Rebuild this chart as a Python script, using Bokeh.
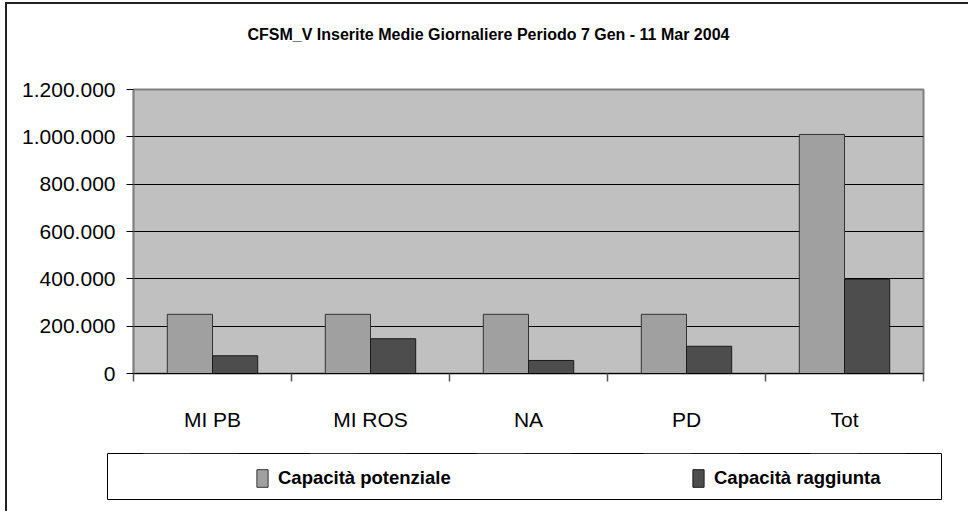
import numpy as np
from bokeh.plotting import figure
from bokeh.models import FixedTicker, Legend, LegendItem, ColumnDataSource
from bokeh.layouts import column
from bokeh.embed import file_html
from bokeh.resources import INLINE

# ---- data ----
categories = ["MI PB", "MI ROS", "NA", "PD", "Tot"]
potenziale = [250000, 250000, 250000, 250000, 1010000]
raggiunta = [75000, 147000, 55000, 115000, 398000]
series_names = ["Capacità potenziale", "Capacità raggiunta"]
y_ticks = [0, 200000, 400000, 600000, 800000, 1000000, 1200000]
y_tick_labels = ["0", "200.000", "400.000", "600.000", "800.000", "1.000.000", "1.200.000"]
title_text = "CFSM_V Inserite Medie Giornaliere Periodo 7 Gen - 11 Mar 2004"

FONT = "Liberation Sans"
LIGHT = "#a0a0a0"
DARK = "#4d4d4d"
LIGHT_LINE = "#333333"
DARK_LINE = "#1a1a1a"

idx = np.arange(len(categories))
centers = idx + 0.5
bar_w = 0.286
src = ColumnDataSource(dict(
    x1=centers - bar_w / 2, x2=centers + bar_w / 2,
    pot=potenziale, rag=raggiunta,
))

# ---- title strip ----
pt = figure(width=961, height=64, x_axis_type=None, y_axis_type=None,
            output_backend="svg", toolbar_location=None,
            min_border_left=0, min_border_right=0, min_border_top=0, min_border_bottom=0)
pt.frame_align = False
pt.outline_line_color = None
pt.background_fill_color = "white"
pt.border_fill_color = "white"
pt.xgrid.visible = False
pt.ygrid.visible = False
pt.title.text = title_text
pt.title.align = "left"
pt.title.text_font = FONT
pt.title.text_font_size = "16px"
pt.title.text_font_style = "bold"
pt.title.text_color = "black"
pt.title.offset = 240
pt.title.standoff = 39

# ---- main chart ----
p = figure(width=961, height=380, x_range=(0, len(categories)), y_range=(0, 1200000),
           output_backend="svg", toolbar_location=None,
           min_border_left=126, min_border_right=45, min_border_top=21, min_border_bottom=75)
p.frame_align = False
p.title.text = ""
p.background_fill_color = "#c0c0c0"
p.border_fill_color = "white"
p.outline_line_color = "#808080"
p.outline_line_width = 2

p.vbar(x="x1", top="pot", width=bar_w, source=src, fill_color=LIGHT, line_color=LIGHT_LINE, line_width=1)
p.vbar(x="x2", top="rag", width=bar_w, source=src, fill_color=DARK, line_color=DARK_LINE, line_width=1)

# grid
p.xgrid.visible = False
p.ygrid.grid_line_color = "black"
p.ygrid.grid_line_width = 1
p.ygrid.ticker = FixedTicker(ticks=y_ticks)

# y axis
ya = p.yaxis[0]
ya.ticker = FixedTicker(ticks=y_ticks)
ya.major_label_overrides = {t: l for t, l in zip(y_ticks, y_tick_labels)}
ya.axis_line_color = "#808080"
ya.axis_line_width = 1.5
ya.major_tick_out = 7
ya.major_tick_in = 0
ya.major_tick_line_color = "black"
ya.minor_tick_line_color = None
ya.major_label_standoff = 11
ya.major_label_text_font = FONT
ya.major_label_text_font_size = "21px"
ya.major_label_text_color = "black"

# x axis
xa = p.xaxis[0]
xa.ticker = FixedTicker(ticks=list(centers), minor_ticks=list(range(len(categories) + 1)))
xa.major_label_overrides = {float(c): n for c, n in zip(centers, categories)}
xa.axis_line_color = "black"
xa.axis_line_width = 1
xa.major_tick_out = 0
xa.major_tick_in = 0
xa.minor_tick_out = 8
xa.minor_tick_in = 0
xa.minor_tick_line_color = "#555555"
xa.minor_tick_line_width = 1.5
xa.major_label_standoff = 26
xa.major_label_text_font = FONT
xa.major_label_text_font_size = "21px"
xa.major_label_text_color = "black"

# ---- legend strip (its frame is the legend box) ----
pl = figure(width=961, height=63, x_range=(0, len(categories)), y_range=(-2, -1),
            x_axis_type=None, y_axis_type=None,
            output_backend="svg", toolbar_location=None,
            min_border_left=100, min_border_right=27, min_border_top=5, min_border_bottom=12)
pl.frame_align = False
pl.background_fill_color = "white"
pl.border_fill_color = "white"
pl.outline_line_color = "black"
pl.outline_line_width = 1

# legend proxies (same data; the bars lie outside this strip's view)
l1 = pl.vbar(x="x1", top="pot", width=bar_w, source=src, fill_color=LIGHT, line_color=LIGHT_LINE)
l2 = pl.vbar(x="x2", top="rag", width=bar_w, source=src, fill_color=DARK, line_color=DARK_LINE)

for r, name, xloc in [(l1, series_names[0], 148), (l2, series_names[1], 584)]:
    lg = Legend(items=[LegendItem(label=name, renderers=[r])], location=(xloc, 10),
                orientation="horizontal", glyph_width=14, glyph_height=22,
                label_standoff=9, padding=0, margin=0,
                border_line_alpha=0, background_fill_alpha=0,
                label_text_font=FONT, label_text_font_size="18.5px",
                label_text_font_style="bold", label_text_color="black",
                label_text_baseline="middle")
    pl.add_layout(lg)

layout = column(pt, p, pl, spacing=0, margin=(2, 0, 0, 5),
                styles={"border-left": "2px solid #222222", "border-top": "2px solid #222222"})

open("out.html", "w").write(file_html(layout, INLINE))
